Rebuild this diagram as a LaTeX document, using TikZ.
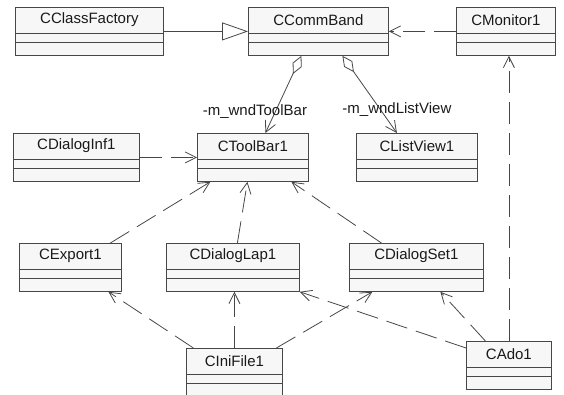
\documentclass[tikz,border=0pt]{standalone}
\usepackage{fontspec}
\setmainfont{Liberation Sans}
\usetikzlibrary{arrows.meta}
\definecolor{linegray}{HTML}{474747}
\definecolor{boxfill}{HTML}{F7F7F7}
\definecolor{textgray}{HTML}{1A1A1A}

\begin{document}
\begin{tikzpicture}[x=1pt,y=-1pt,
  classbox/.style={draw=linegray,fill=boxfill,line width=0.8pt,rectangle,inner sep=0pt,anchor=north west,minimum height=48pt},
  classname/.style={font=\fontsize{15}{18}\selectfont,text=textgray,inner sep=0pt},
  rolename/.style={font=\fontsize{15}{18}\selectfont,text=textgray,inner sep=0pt},
  dep/.style={draw=linegray,line width=0.8pt,dash pattern=on 22pt off 9pt,-{Straight Barb[length=11pt,width=11pt]}},
  agg/.style={draw=linegray,line width=0.8pt,{Diamond[open,length=20pt,width=10pt]}-{Straight Barb[length=11pt,width=11pt]}},
  gen/.style={draw=linegray,line width=0.8pt,-{Triangle[open,length=26pt,width=18pt]}}]
\useasboundingbox (0,0) rectangle (564,394);
\clip (0,0) rectangle (564,394);

% class boxes
\foreach \nm/\A/\xa/\ya/\xb in {cf/CClassFactory/15/7/163, cb/CCommBand/248/7/388, mon/CMonitor1/456/7/555,
    inf/CDialogInf1/13/133/139, tb/CToolBar1/197/133/308, lv/CListView1/356/133/477,
    exp/CExport1/19/243/121, lap/CDialogLap1/166/243/299, set/CDialogSet1/349/243/483,
    ini/CIniFile1/186/348/282, ado/CAdo1/466/341/551} {%
    \pgfmathsetmacro\mywidth{\xb-\xa}
    \node[classbox,minimum width=\mywidth pt] (\nm) at (\xa,\ya) {};
    \draw[linegray,line width=0.8pt] ([yshift=-26pt]\nm.north west) -- ([yshift=-26pt]\nm.north east);
    \draw[linegray,line width=0.8pt] ([yshift=-35pt]\nm.north west) -- ([yshift=-35pt]\nm.north east);
    \node[classname] at ([yshift=-13pt]\nm.north) {\A};
}

% top row
\draw[gen] (cf.east) -- (cb.west);
\draw[dep] (mon.west) -- (cb.east);
\draw[agg] ([xshift=-17pt]cb.south) -- ([xshift=12.5pt]tb.north);
\draw[agg] ([xshift=24pt]cb.south) -- ([xshift=-20pt]lv.north);
\node[rolename] (tbrole) at ([xshift=2pt,yshift=21pt]tb.north) {-m\_wndToolBar};
\node[rolename] (lvrole) at ([xshift=-20pt,yshift=23pt]lv.north) {-m\_wndListView};

% into CToolBar1
\draw[dep] (inf.east) -- (tb.west);
\draw[dep] ([xshift=40pt]exp.north) -- ([xshift=-42.5pt]tb.south);
\draw[dep] ([xshift=4.5pt]lap.north) -- ([xshift=-5.5pt]tb.south);
\draw[dep] ([xshift=-35pt]set.north) -- ([xshift=38.5pt]tb.south);

% bottom row
\draw[dep] (ado.north) -- (ado.north |- mon.south);
\draw[dep] ([xshift=-41pt]ini.north) -- ([xshift=38pt]exp.south);
\draw[dep] (ini.north) -- (ini.north |- lap.south);
\draw[dep] ([xshift=42pt]ini.north) -- ([xshift=-44pt]set.south);
\draw[dep] ([yshift=-7pt]ado.north west) -- (lap.south east);
\draw[dep] ([xshift=-23.5pt]ado.north) -- ([xshift=24pt]set.south);
\end{tikzpicture}
\end{document}
